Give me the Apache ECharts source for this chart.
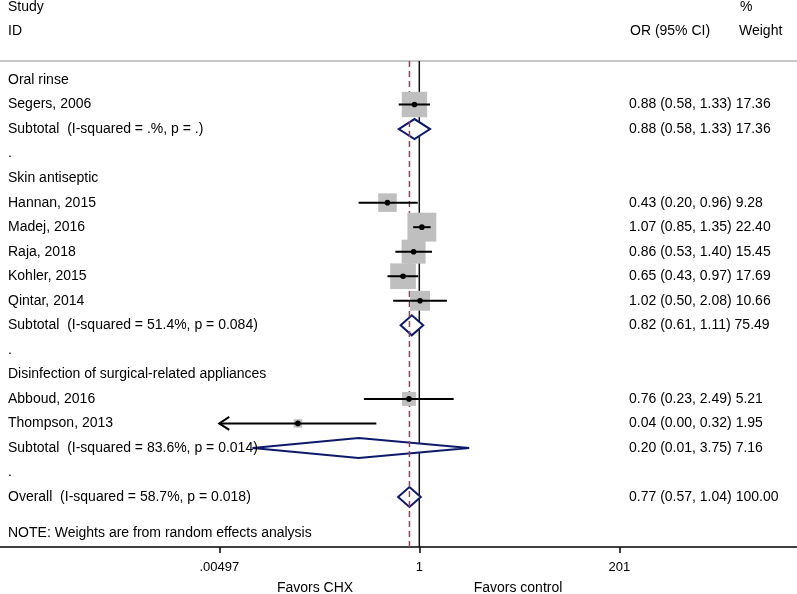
<!DOCTYPE html>
<html><head><meta charset="utf-8">
<script src="https://cdn.jsdelivr.net/npm/echarts@6/dist/echarts.min.js"></script>
<style>html,body{margin:0;padding:0;background:#fff}#c{width:797px;height:594px}</style>
</head><body><div id="c"></div>
<script>
// ---- data ----
const rowLabels = [
  'Oral rinse',
  'Segers, 2006',
  'Subtotal  (I-squared = .%, p = .)',
  '.',
  'Skin antiseptic',
  'Hannan, 2015',
  'Madej, 2016',
  'Raja, 2018',
  'Kohler, 2015',
  'Qintar, 2014',
  'Subtotal  (I-squared = 51.4%, p = 0.084)',
  '.',
  'Disinfection of surgical-related appliances',
  'Abboud, 2016',
  'Thompson, 2013',
  'Subtotal  (I-squared = 83.6%, p = 0.014)',
  '.',
  'Overall  (I-squared = 58.7%, p = 0.018)'
];
const rowKinds = ['head','study','sub','gap','head','study','study','study','study','study','sub','gap','head','study','study','sub','gap','overall'];
const orValues = [null,0.88,0.88,null,null,0.43,1.07,0.86,0.65,1.02,0.82,null,null,0.76,0.04,0.20,null,0.77];
const ciLower  = [null,0.58,0.58,null,null,0.20,0.85,0.53,0.43,0.50,0.61,null,null,0.23,0.004,0.012,null,0.57];
const ciUpper  = [null,1.33,1.33,null,null,0.96,1.35,1.40,0.97,2.08,1.11,null,null,2.49,0.32,3.75,null,1.04];
const weights  = [null,17.36,17.36,null,null,9.28,22.40,15.45,17.69,10.66,75.49,null,null,5.21,1.95,7.16,null,100.00];
const tickValues = [0.00497, 1, 201];
const tickLabels = ['.00497', '1', '201'];
const nullValue = 1;
const overallIndex = 17;

// ---- layout ----
const FONT = '"Liberation Sans", Arial, Helvetica, sans-serif';
const LX = v => Math.log10(v);
const AX_MIN = -4.829, AX_MAX = 4.350;
const Y_MIN = -3.261, Y_MAX = 19.038;
const SEP_ROW = -0.775;
const clipLo = tickValues[0], clipHi = tickValues[tickValues.length - 1];
const rowData = rowLabels.map((_, i) => [0, i]);

function vline(value, style) {
  return function (params, api) {
    const a = api.coord([LX(value), SEP_ROW]);
    const b = api.coord([LX(value), Y_MAX]);
    return { type: 'line', shape: { x1: a[0], y1: a[1], x2: b[0], y2: b[1] }, style: style };
  };
}

const chart = echarts.init(document.getElementById('c'), null, { renderer: 'canvas' });
chart.setOption({
  animation: false,
  backgroundColor: '#fff',
  grid: { left: 0, right: 0, top: 0, bottom: 47 },
  xAxis: {
    type: 'value', min: AX_MIN, max: AX_MAX,
    splitLine: { show: false },
    axisLine: { onZero: false, lineStyle: { color: '#000', width: 1.5 } },
    axisTick: { customValues: tickValues.map(LX), length: 6, lineStyle: { color: '#000', width: 1.5 } },
    axisLabel: {
      customValues: tickValues.map(LX), margin: 14, fontSize: 13, color: '#000', fontFamily: FONT,
      formatter: function (v) {
        let best = 0;
        tickValues.forEach((t, k) => { if (Math.abs(LX(t) - v) < Math.abs(LX(tickValues[best]) - v)) best = k; });
        return tickLabels[best];
      }
    }
  },
  yAxis: { type: 'value', min: Y_MIN, max: Y_MAX, inverse: true, show: false },
  graphic: [
    { type: 'line', shape: { x1: 0, y1: 61, x2: 797, y2: 61 }, style: { stroke: '#c8c8c8', lineWidth: 2 } },
    { type: 'text', left: 8, top: 0, style: { text: 'Study', font: '14px ' + FONT, fill: '#000' } },
    { type: 'text', left: 8, top: 24, style: { text: 'ID', font: '14px ' + FONT, fill: '#000' } },
    { type: 'text', left: 630, top: 24, style: { text: 'OR (95% CI)', font: '14px ' + FONT, fill: '#000' } },
    { type: 'text', left: 740, top: 0, style: { text: '%', font: '14px ' + FONT, fill: '#000' } },
    { type: 'text', left: 739, top: 24, style: { text: 'Weight', font: '14px ' + FONT, fill: '#000' } },
    { type: 'text', left: 8, top: 526, style: { text: 'NOTE: Weights are from random effects analysis', font: '14px ' + FONT, fill: '#000' } },
    { type: 'text', x: 315, y: 588, style: { text: 'Favors CHX', font: '14px ' + FONT, fill: '#000', align: 'center', verticalAlign: 'middle' } },
    { type: 'text', x: 518, y: 588, style: { text: 'Favors control', font: '14px ' + FONT, fill: '#000', align: 'center', verticalAlign: 'middle' } }
  ],
  series: [
    { type: 'custom', z: 1, data: [[0, 0]], renderItem: vline(nullValue, { stroke: '#111', lineWidth: 1.5 }) },
    {
      type: 'custom', z: 2, data: rowData,
      renderItem: function (params, api) {
        const i = api.value(1);
        if (rowKinds[i] !== 'sub' && rowKinds[i] !== 'overall') return;
        const y = api.coord([0, i])[1];
        const xl = api.coord([LX(Math.max(ciLower[i], clipLo)), i])[0];
        const xm = api.coord([LX(orValues[i]), i])[0];
        const xr = api.coord([LX(Math.min(ciUpper[i], clipHi)), i])[0];
        return { type: 'polygon', shape: { points: [[xl, y], [xm, y - 10], [xr, y], [xm, y + 10]] },
          style: { fill: '#fff', stroke: '#0d1a6b', lineWidth: 2 } };
      }
    },
    { type: 'custom', z: 3, data: [[0, 0]], renderItem: vline(orValues[overallIndex], { stroke: '#b2334f', lineWidth: 1.5, lineDash: [6, 4] }) },
    {
      type: 'custom', z: 4, data: rowData,
      renderItem: function (params, api) {
        const i = api.value(1);
        if (rowKinds[i] !== 'study') return;
        const p = api.coord([LX(orValues[i]), i]);
        const s = 6.1 * Math.sqrt(weights[i]);
        return { type: 'rect', shape: { x: p[0] - s / 2, y: p[1] - s / 2, width: s, height: s }, style: { fill: '#bfbfbf' } };
      }
    },
    {
      type: 'custom', z: 5, data: rowData,
      renderItem: function (params, api) {
        const i = api.value(1);
        if (rowKinds[i] !== 'study') return;
        const p = api.coord([LX(orValues[i]), i]);
        const xl = api.coord([LX(Math.max(ciLower[i], clipLo)), i])[0];
        const xr = api.coord([LX(Math.min(ciUpper[i], clipHi)), i])[0];
        const children = [
          { type: 'line', shape: { x1: xl, y1: p[1], x2: xr, y2: p[1] }, style: { stroke: '#000', lineWidth: 2 } },
          { type: 'circle', shape: { cx: p[0], cy: p[1], r: 2.8 }, style: { fill: '#000' } }
        ];
        if (ciLower[i] < clipLo) {
          children.push({ type: 'polyline', shape: { points: [[xl + 10, p[1] - 6.5], [xl, p[1]], [xl + 10, p[1] + 6.5]] },
            style: { stroke: '#000', lineWidth: 2, fill: null } });
        }
        if (ciUpper[i] > clipHi) {
          children.push({ type: 'polyline', shape: { points: [[xr - 10, p[1] - 6.5], [xr, p[1]], [xr - 10, p[1] + 6.5]] },
            style: { stroke: '#000', lineWidth: 2, fill: null } });
        }
        return { type: 'group', children: children };
      }
    },
    {
      type: 'custom', z: 6, data: rowData,
      renderItem: function (params, api) {
        const i = api.value(1);
        const y = api.coord([0, i])[1];
        const children = [
          { type: 'text', style: { text: rowLabels[i], x: 8, y: y, font: '14px ' + FONT, fill: '#000', align: 'left', verticalAlign: 'middle' } }
        ];
        if (orValues[i] != null) {
          const t = orValues[i].toFixed(2) + ' (' + ciLower[i].toFixed(2) + ', ' + ciUpper[i].toFixed(2) + ') ' + weights[i].toFixed(2);
          children.push({ type: 'text', style: { text: t, x: 629, y: y, font: '14px ' + FONT, fill: '#000', align: 'left', verticalAlign: 'middle' } });
        }
        return { type: 'group', children: children };
      }
    }
  ]
});
</script>
</body></html>
